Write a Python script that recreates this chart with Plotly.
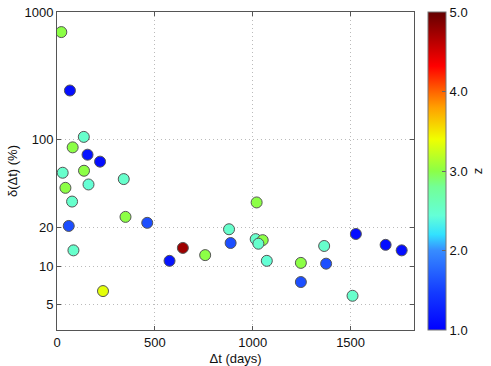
import plotly.graph_objects as go

DT_DAYS = [22, 66, 137, 80, 156, 220, 29, 138, 161, 341, 43, 77, 350, 60, 461,
           84, 235, 575, 643, 757, 879, 887, 1020, 1015, 1051, 1029, 1072,
           1246, 1246, 1365, 1375, 1510, 1527, 1679, 1761]
DELTA_PCT = [695, 241, 104, 86, 75.3, 66.4, 54.3, 56.3, 43.9, 48.4, 41.3, 32.2,
             24.4, 20.7, 21.9, 13.3, 6.36, 11.0, 13.9, 12.2, 19.5, 15.2, 31.7,
             16.3, 16.0, 15.0, 11.0, 10.6, 7.49, 14.4, 10.45, 5.84, 17.9, 14.7,
             13.3]
Z = [3.0, 1.1, 2.5, 3.0, 1.15, 1.1, 2.5, 3.0, 2.45, 2.5, 3.0, 2.5, 3.0, 1.6,
     1.6, 2.5, 3.35, 1.15, 4.75, 3.0, 2.5, 1.6, 3.0, 2.5, 3.0, 2.5, 2.45, 3.0,
     1.6, 2.5, 1.6, 2.5, 1.1, 1.1, 1.1]

Y_TICKS = [5, 10, 20, 100, 1000]
X_TICKS = [0, 500, 1000, 1500]
Z_TICKS = [1, 2, 3, 4, 5]

# jet-like map as seen on the colour bar
COLORSCALE = [
    [0.0, "rgb(0,0,255)"],
    [0.12, "rgb(20,60,255)"],
    [0.25, "rgb(55,140,255)"],
    [0.3, "rgb(50,225,255)"],
    [0.36, "rgb(100,255,215)"],
    [0.45, "rgb(115,255,150)"],
    [0.5, "rgb(140,255,70)"],
    [0.6, "rgb(240,255,0)"],
    [0.7, "rgb(255,160,0)"],
    [0.75, "rgb(255,100,0)"],
    [0.83, "rgb(255,0,0)"],
    [1.0, "rgb(100,0,0)"],
]

FONT = "Liberation Sans, Arial, sans-serif"
AXIS_GREY = "#555555"
GRID_GREY = "#BBBBBB"

fig = go.Figure(
    go.Scatter(
        x=DT_DAYS,
        y=DELTA_PCT,
        mode="markers",
        marker={
            "size": 11,
            "color": Z,
            "cmin": 1,
            "cmax": 5,
            "colorscale": COLORSCALE,
            "line": {"color": "#555555", "width": 1},
            "colorbar": {
                "title": {"text": "z", "side": "right", "font": {"size": 13}},
                "tickvals": Z_TICKS,
                "ticktext": [f"{v:.1f}" for v in Z_TICKS],
                "ticks": "inside",
                "ticklen": 4,
                "tickcolor": "#666666",
                "tickfont": {"size": 13},
                "thickness": 18,
                "len": 1,
                "lenmode": "fraction",
                "x": 1.04,
                "xanchor": "left",
                "y": 0.5,
                "yanchor": "middle",
                "outlinecolor": "#777777",
                "outlinewidth": 1,
                "xpad": 0,
                "ypad": 0,
            },
        },
        showlegend=False,
        hoverinfo="skip",
    )
)

axis_common = {
    "showgrid": True,
    "gridcolor": GRID_GREY,
    "griddash": "1px,3px",
    "gridwidth": 1,
    "zeroline": False,
    "showline": True,
    "linecolor": AXIS_GREY,
    "mirror": "ticks",
    "ticks": "inside",
    "ticklen": 4,
    "tickcolor": AXIS_GREY,
    "automargin": False,
    "tickfont": {"size": 13},
}

fig.update_layout(
    width=491,
    height=366,
    margin={"l": 57, "r": 77, "t": 12, "b": 36, "autoexpand": False},
    plot_bgcolor="#FFFFFF",
    paper_bgcolor="#FFFFFF",
    font={"family": FONT, "size": 13, "color": "#111111"},
    xaxis={
        **axis_common,
        "title": {"text": "Δt (days)", "font": {"size": 13}},
        "range": [0, 1824],
        "tickvals": X_TICKS,
    },
    yaxis={
        **axis_common,
        "type": "log",
        "range": [0.497, 3],
        "tickvals": Y_TICKS,
    },
    annotations=[
        {
            "text": "δ(Δt) (%)",
            "textangle": -90,
            "xref": "paper",
            "yref": "paper",
            "x": -0.126,
            "y": 0.5,
            "xanchor": "center",
            "yanchor": "middle",
            "showarrow": False,
            "font": {"size": 13},
        }
    ],
)

# drop the page's default body margin so the figure sits at the window corner
fig.write_html(
    "out.html",
    config={"displayModeBar": False},
    post_script="document.body.style.margin = '0px';",
)
